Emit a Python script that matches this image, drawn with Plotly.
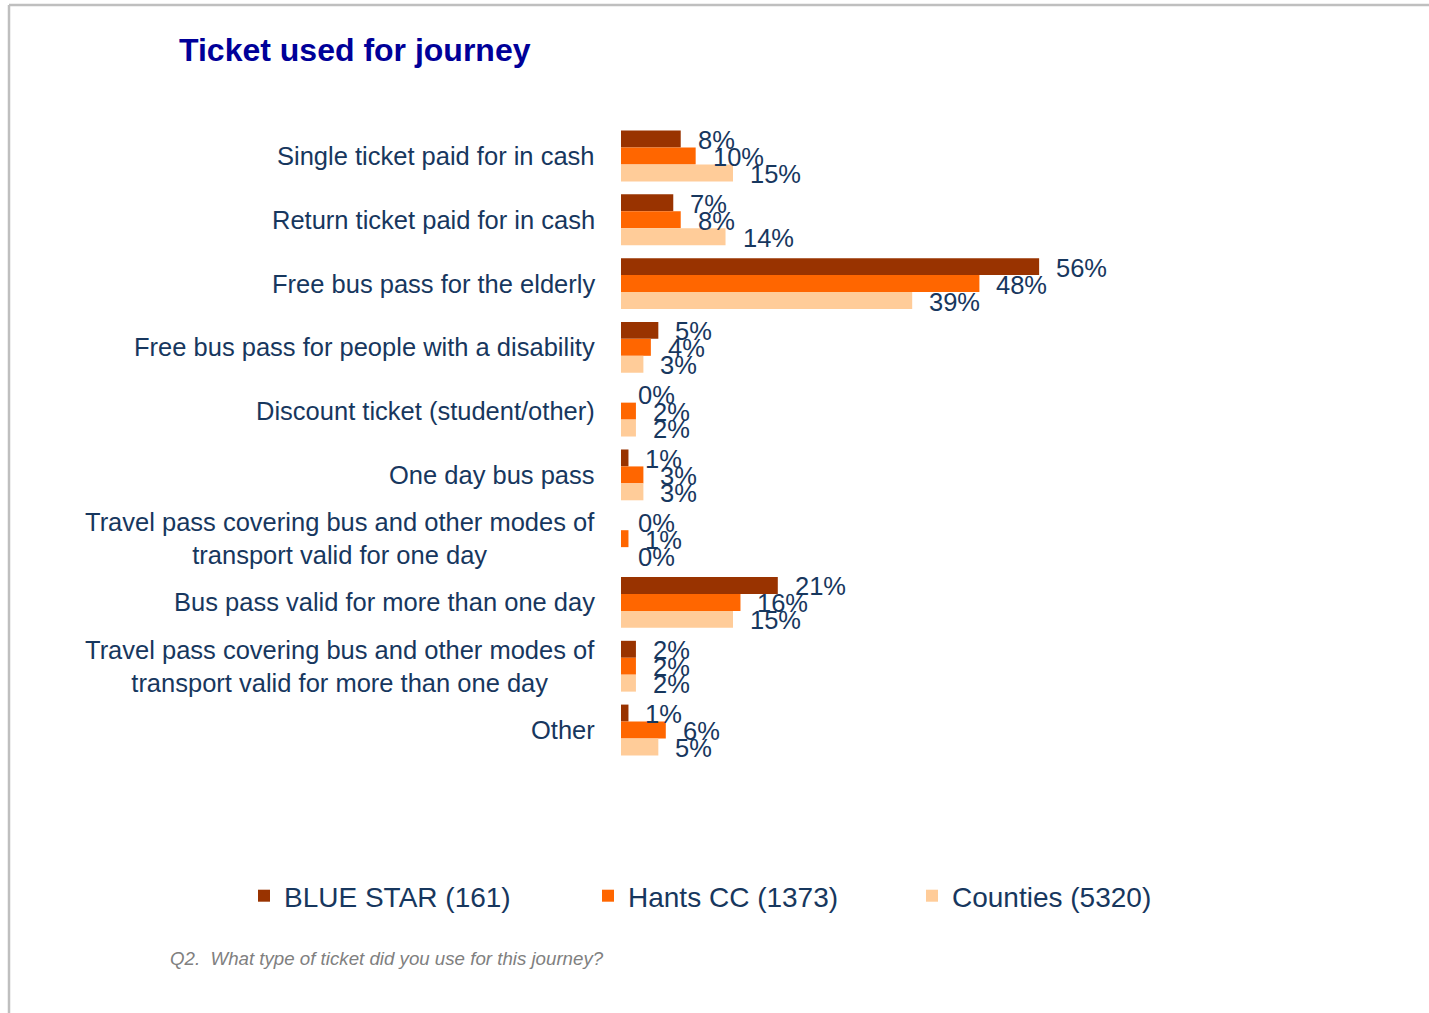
import plotly.graph_objects as go

categories = [
    "Single ticket paid for in cash",
    "Return ticket paid for in cash",
    "Free bus pass for the elderly",
    "Free bus pass for people with a disability",
    "Discount ticket (student/other)",
    "One day bus pass",
    "Travel pass covering bus and other modes of<br>transport valid for one day",
    "Bus pass valid for more than one day",
    "Travel pass covering bus and other modes of<br>transport valid for more than one day",
    "Other",
]
series_names = ["BLUE STAR (161)", "Hants CC (1373)", "Counties (5320)"]
blue_star = [8, 7, 56, 5, 0, 1, 0, 21, 2, 1]
hants_cc = [10, 8, 48, 4, 2, 3, 1, 16, 2, 6]
counties = [15, 14, 39, 3, 2, 3, 0, 15, 2, 5]
series_values = [blue_star, hants_cc, counties]
colors = ["#993300", "#FF6600", "#FFCC99"]

W, H = 1429, 1013
ML, MR, MT, MB = 621, 248, 122, 251
PW, PH = W - ML - MR, H - MT - MB
XMAX = 75

def px_x(px):
    return (px - ML) / PW

def px_y(py):
    return (H - MB - py) / PH

TEXT = "#17375E"
FONT = "Liberation Sans, Arial, sans-serif"

fig = go.Figure()
legend_ids = ["legend", "legend2", "legend3"]
for name, vals, col, lg in zip(series_names, series_values, colors, legend_ids):
    fig.add_trace(go.Bar(
        y=categories, x=vals, name=name, orientation="h",
        marker=dict(color=col, line=dict(width=0)),
        legend=lg, hoverinfo="skip",
    ))

annotations = []
shifts = [17, 0, -17]
for vals, ys in zip(series_values, shifts):
    for cat, v in zip(categories, vals):
        annotations.append(dict(
            x=v, y=cat, xref="x", yref="y", text=f"{v}%", showarrow=False,
            xanchor="left", yanchor="middle", xshift=15, yshift=ys - 1,
            font=dict(family=FONT, size=25.5, color=TEXT),
        ))

for cat in categories:
    annotations.append(dict(
        x=px_x(597), y=cat, xref="paper", yref="y", text=cat, showarrow=False,
        xanchor="right", yanchor="middle", align="center",
        font=dict(family=FONT, size=25.5, color=TEXT),
    ))

annotations.append(dict(
    x=px_x(168), y=px_y(958), xref="paper", yref="paper",
    text="<i>Q2.  What type of ticket did you use for this journey?</i>",
    showarrow=False, xanchor="left", yanchor="middle",
    font=dict(family=FONT, size=18.7, color="#808080"),
))

legend_px = [244, 588, 912]
legends = {}
for lg, lx in zip(legend_ids, legend_px):
    legends[lg] = dict(
        x=px_x(lx), y=px_y(896), xref="paper", yref="paper",
        xanchor="left", yanchor="middle", orientation="h",
        font=dict(family=FONT, size=28, color=TEXT),
        bgcolor="rgba(0,0,0,0)", borderwidth=0,
    )

shapes = [
    dict(type="line", xref="paper", yref="paper",
         x0=px_x(9), x1=px_x(W + 5), y0=px_y(5), y1=px_y(5),
         line=dict(color="#BFBFBF", width=2.5)),
    dict(type="line", xref="paper", yref="paper",
         x0=px_x(9), x1=px_x(9), y0=px_y(5), y1=px_y(H + 5),
         line=dict(color="#BFBFBF", width=2.5)),
]

fig.update_layout(
    width=W, height=H,
    margin=dict(l=ML, r=MR, t=MT, b=MB),
    paper_bgcolor="white", plot_bgcolor="white",
    barmode="group", bargap=13 / 64, bargroupgap=0,
    title=dict(
        text="<b>Ticket used for journey</b>",
        x=179 / W, xref="container", xanchor="left",
        y=1 - 50 / H, yref="container", yanchor="middle",
        font=dict(family=FONT, size=32, color="#000099"),
    ),
    xaxis=dict(range=[0, XMAX], visible=False, fixedrange=True),
    yaxis=dict(autorange="reversed", showticklabels=False, showgrid=False,
               zeroline=False, showline=False, ticks="", fixedrange=True),
    annotations=annotations,
    shapes=shapes,
    showlegend=True,
    **legends,
)

fig.write_html(
    "out.html",
    config={"displayModeBar": False},
    post_script="document.body.style.margin='0';document.body.style.overflow='hidden';",
)
